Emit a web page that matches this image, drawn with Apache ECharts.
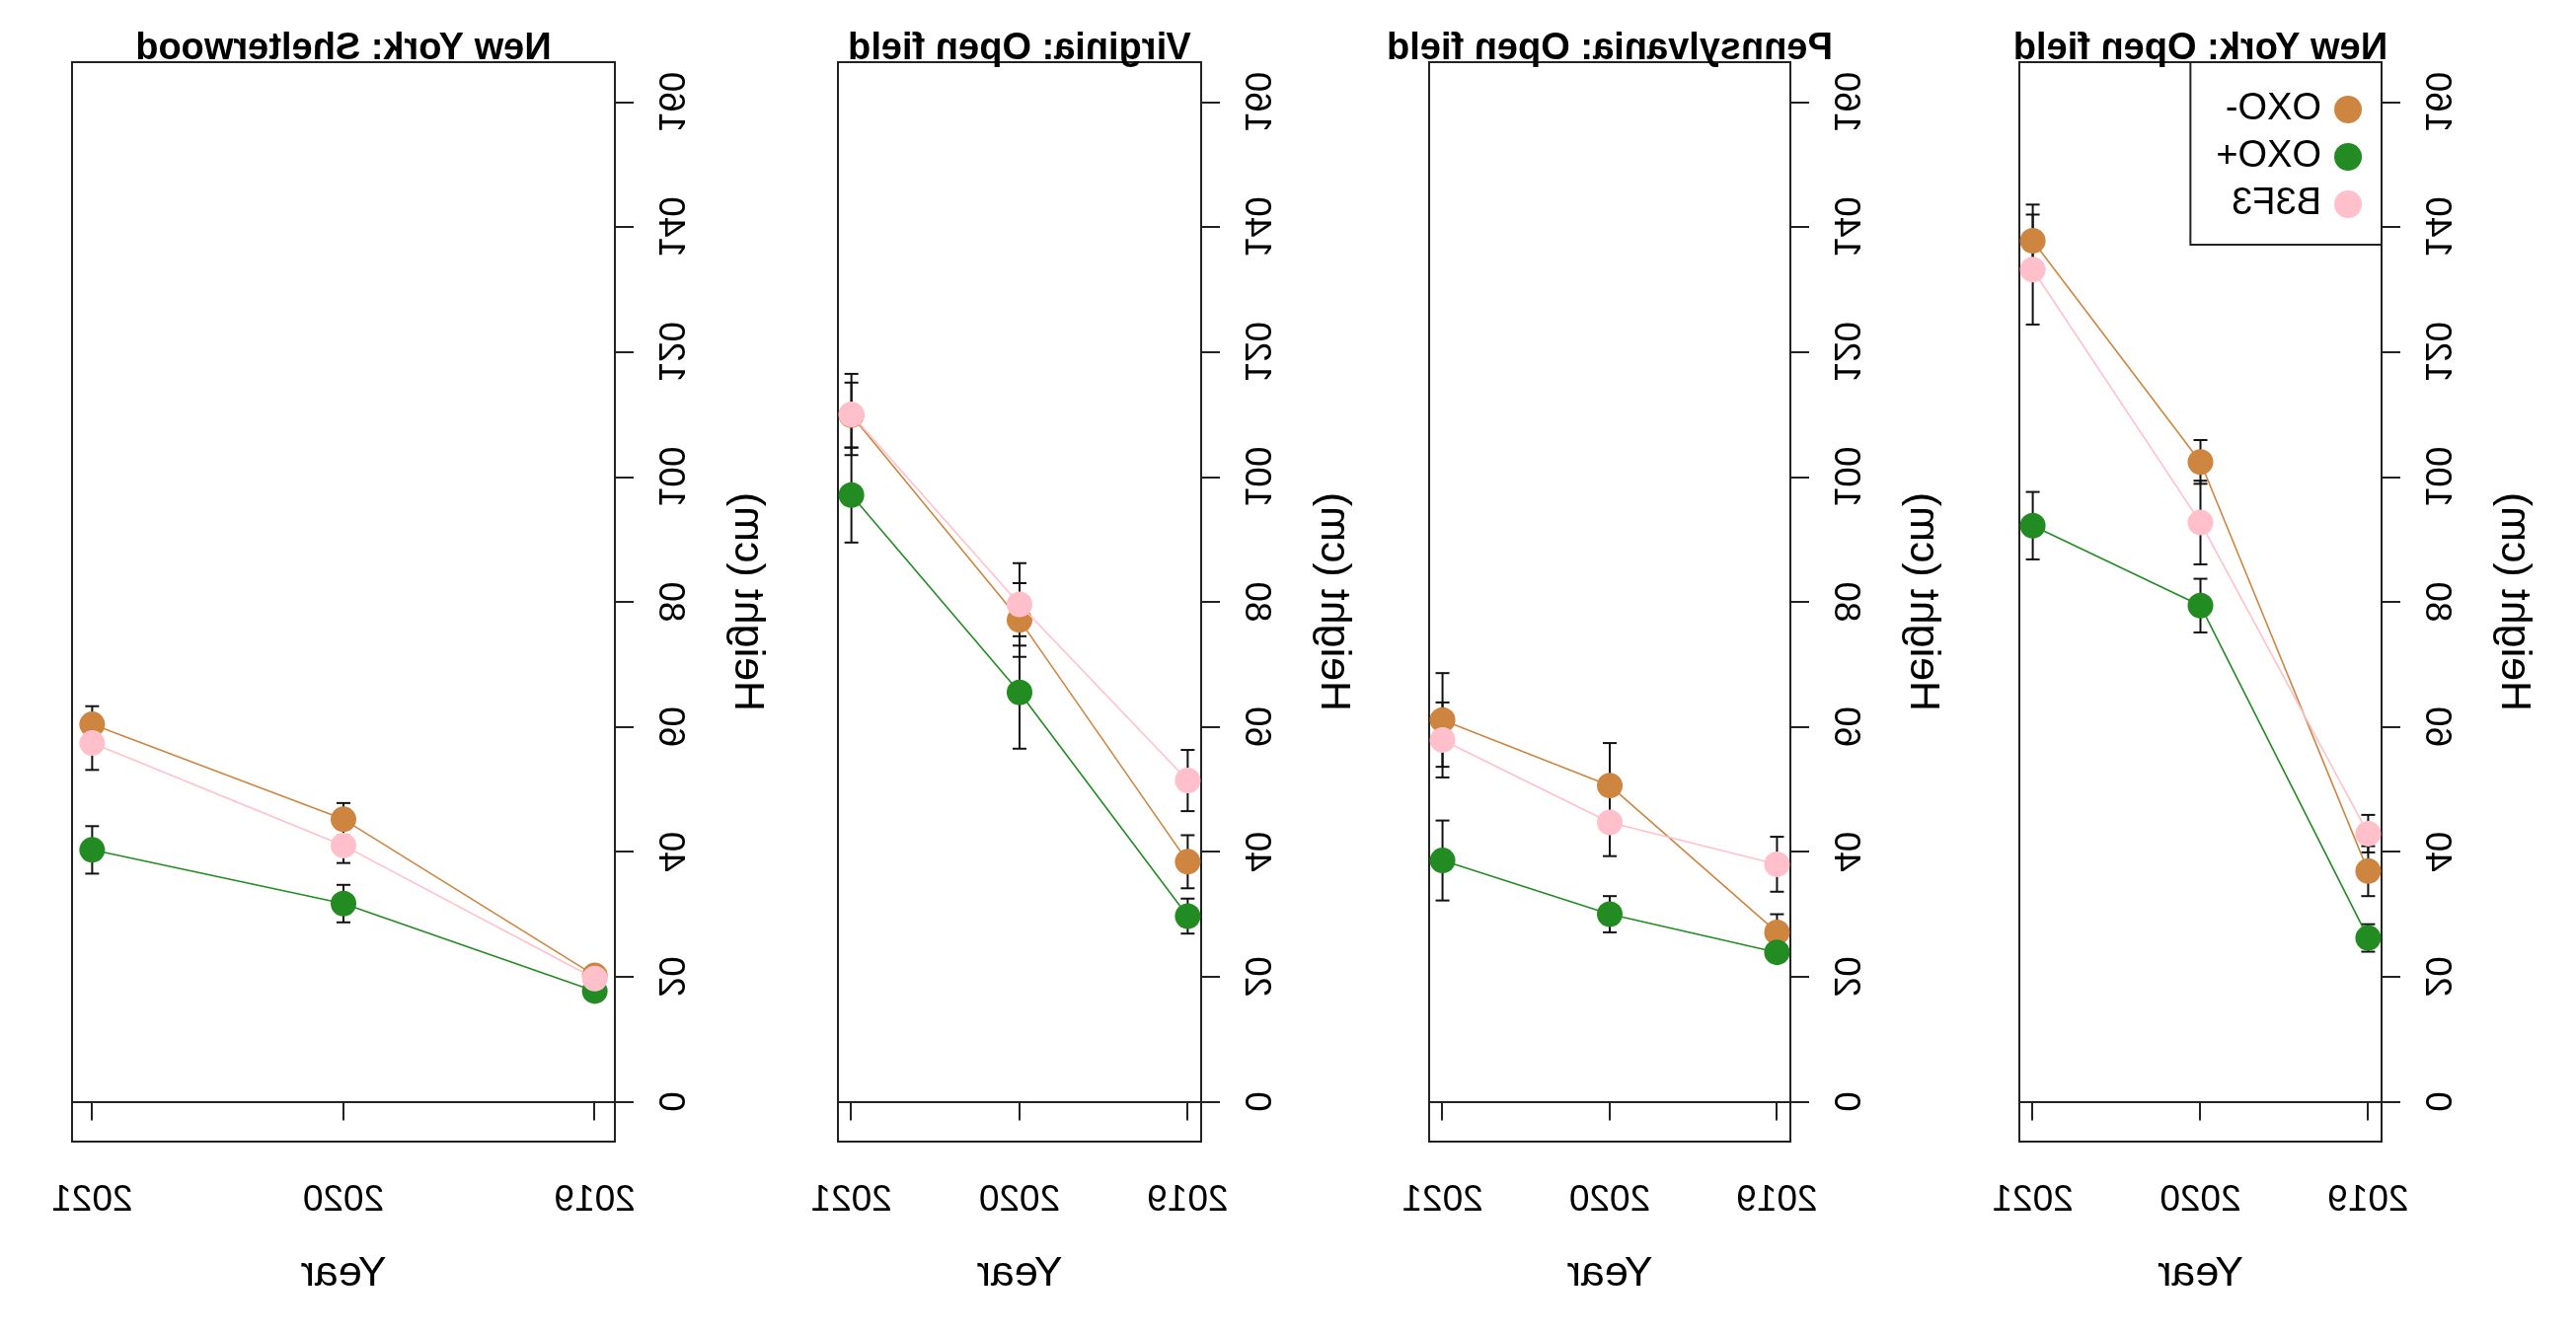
<!DOCTYPE html>
<html><head><meta charset="utf-8">
<script src="https://cdn.jsdelivr.net/npm/echarts@6/dist/echarts.min.js"></script>
<style>html,body{margin:0;padding:0;background:#fff;overflow:hidden}#c{width:2610px;height:1353px;transform:scaleX(-1);}</style>
</head><body><div id="c"></div><script>
// ---------- data ----------
const years = [2019, 2020, 2021];
const yTicks = [0, 20, 40, 60, 80, 100, 120, 140, 160];
const panelTitles = ['New York: Open field', 'Pennsylvania: Open field', 'Virginia: Open field', 'New York: Shelterwood'];
const groupNames = ['OXO-', 'OXO+', 'B3F3'];

// means per panel: [OXO-, OXO+, B3F3], each over years 2019, 2020, 2021
const nyOpenMeans  = [[36.9, 102.4, 137.8], [26.2, 79.4, 92.2], [42.9, 92.7, 133.2]];
const nyOpenSE     = [[4.0, 3.5, 5.8],      [2.2, 4.3, 5.4],    [3.0, 6.7, 8.8]];
const pennMeans    = [[27.1, 50.6, 61.1],   [23.9, 30.0, 38.6], [38.0, 44.7, 57.9]];
const pennSE       = [[2.9, 6.8, 7.5],      [1.5, 2.9, 6.4],    [4.4, 5.4, 6.0]];
const virginiaMeans= [[38.4, 77.1, 109.9],  [29.7, 65.5, 97.1], [51.4, 79.6, 110.0]];
const virginiaSE   = [[4.25, 5.9, 5.2],     [2.8, 9.0, 7.6],    [4.9, 6.6, 6.5]];
const shelterMeans = [[20.2, 45.2, 60.4],   [17.7, 31.7, 40.3], [19.7, 41.0, 57.4]];
const shelterSE    = [[null, 2.6, 2.9],     [null, 3.0, 3.8],   [null, 2.8, 4.3]];

const allMeans = [nyOpenMeans, pennMeans, virginiaMeans, shelterMeans];
const allSE = [nyOpenSE, pennSE, virginiaSE, shelterSE];

// ---------- styling / layout ----------
const groupColors = ['#CD853F', '#228B22', '#FFC0CB'];
const FONT = 'Liberation Sans, Arial, Helvetica, sans-serif';
const INK = '#222';
const grids = [
  {left: 197, width: 367},
  {left: 796, width: 366},
  {left: 1393, width: 368},
  {left: 1987, width: 550}
];
const gridTop = 63, gridHeight = 1094;

const option = {
  animation: false,
  backgroundColor: '#fff',
  title: grids.map((g, i) => ({
    text: panelTitles[i], left: g.left + g.width / 2, top: 31, textAlign: 'center', padding: 0,
    textStyle: {fontSize: 38, fontWeight: 'bold', color: '#000', fontFamily: FONT}
  })),
  legend: {
    data: groupNames, orient: 'vertical', left: 197, top: 63, selectedMode: false,
    icon: 'circle', itemWidth: 28, itemHeight: 28, itemGap: 10,
    padding: [29, 26, 22, 20], backgroundColor: '#fff', borderColor: INK, borderWidth: 2,
    textStyle: {fontSize: 38, color: '#000', fontFamily: FONT, padding: [0, 0, 0, 8]},
    z: 20
  },
  grid: grids.map(g => ({left: g.left, width: g.width, top: gridTop, height: gridHeight,
    show: true, borderColor: INK, borderWidth: 2, backgroundColor: 'transparent', containLabel: false})),
  xAxis: grids.map((g, i) => ({
    gridIndex: i, type: 'value', min: 2018.92, max: 2021.08,
    splitLine: {show: false},
    axisLine: {show: true, lineStyle: {color: INK, width: 2}},
    axisTick: {show: true, customValues: years, length: 19, lineStyle: {color: INK, width: 2}},
    axisLabel: {customValues: years, formatter: v => String(v), margin: 41, fontSize: 37, color: '#000', fontFamily: FONT},
    name: 'Year', nameLocation: 'middle', nameGap: 113,
    nameTextStyle: {fontSize: 43, color: '#000', fontFamily: FONT}
  })),
  yAxis: grids.map((g, i) => ({
    gridIndex: i, type: 'value', min: -6.4, max: 166.4,
    splitLine: {show: false},
    axisLine: {show: true, lineStyle: {color: INK, width: 2}},
    axisTick: {show: true, customValues: yTicks, length: 19, lineStyle: {color: INK, width: 2}},
    axisLabel: {customValues: yTicks, rotate: 90, margin: 37, fontSize: 37, color: '#000', fontFamily: FONT},
    name: 'Height (cm)', nameLocation: 'middle', nameRotate: 90, nameGap: 112,
    nameTextStyle: {fontSize: 43, color: '#000', fontFamily: FONT}
  })),
  series: []
};

allMeans.forEach((means, p) => {
  // error bars beneath points
  groupNames.forEach((gName, gi) => {
    const data = [];
    years.forEach((yr, k) => {
      const se = allSE[p][gi][k];
      if (se != null) data.push([yr, means[gi][k] - se, means[gi][k] + se]);
    });
    option.series.push({
      type: 'custom', xAxisIndex: p, yAxisIndex: p, z: 1, silent: true,
      data: data,
      renderItem: function (params, api) {
        const lo = api.coord([api.value(0), api.value(1)]);
        const hi = api.coord([api.value(0), api.value(2)]);
        const hw = 7;
        const st = {stroke: '#111', lineWidth: 2};
        return {type: 'group', children: [
          {type: 'line', shape: {x1: lo[0], y1: lo[1], x2: hi[0], y2: hi[1]}, style: st},
          {type: 'line', shape: {x1: lo[0] - hw, y1: lo[1], x2: lo[0] + hw, y2: lo[1]}, style: st},
          {type: 'line', shape: {x1: hi[0] - hw, y1: hi[1], x2: hi[0] + hw, y2: hi[1]}, style: st}
        ]};
      }
    });
  });
  groupNames.forEach((gName, gi) => {
    option.series.push({
      name: gName, type: 'line', xAxisIndex: p, yAxisIndex: p, z: 2 + gi,
      data: years.map((yr, k) => [yr, means[gi][k]]),
      symbol: 'circle', symbolSize: 26, showSymbol: true,
      itemStyle: {color: groupColors[gi]},
      lineStyle: {color: groupColors[gi], width: 1.6},
      emphasis: {disabled: true}
    });
  });
});

const chart = echarts.init(document.getElementById('c'), null, {renderer: 'canvas'});
chart.setOption(option);
</script></body></html>
